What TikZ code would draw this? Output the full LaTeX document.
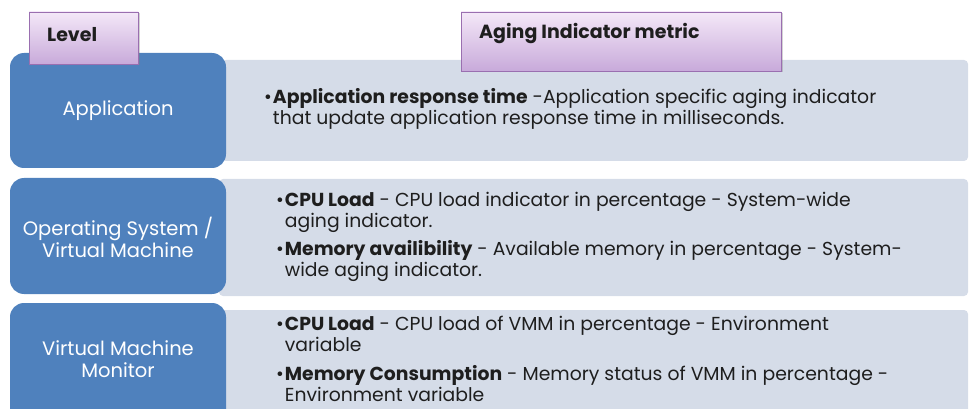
\documentclass[tikz,border=0pt]{standalone}
\usepackage{fontspec}
\setmainfont{Poppins}
\usetikzlibrary{shadows}
\definecolor{blueA}{HTML}{4F81BD}
\definecolor{lightA}{HTML}{D5DCE8}
\definecolor{purpTop}{HTML}{F4E8F8}
\definecolor{purpBot}{HTML}{C8AADA}
\definecolor{purpEdge}{HTML}{9A6FB0}
\definecolor{txt}{HTML}{1E1E1E}
\begin{document}
\begin{tikzpicture}[x=1pt,y=-1pt,
  levelbox/.style={fill=blueA,rounded corners=14pt,inner sep=0pt},
  leveltext/.style={text=white,align=center,inner sep=0pt,font=\fontsize{19.5}{22}\selectfont},
  metricbox/.style={fill=lightA,rounded corners=4pt,inner sep=0pt},
  headbox/.style={draw=purpEdge,line width=0.8pt,top color=purpTop,bottom color=purpBot,
    drop shadow={opacity=0.35,shadow xshift=1.5pt,shadow yshift=-1.5pt},inner sep=0pt},
  headtext/.style={font=\fontsize{19}{20}\selectfont\bfseries,text=txt,inner sep=0pt,anchor=west},
  itm/.style={anchor=north west,inner sep=0pt,text=txt,font=\fontsize{18.8}{21.5}\selectfont}
]
\useasboundingbox (0,0) rectangle (970,409);
\clip (0,0) rectangle (970,409);
% metric boxes
\node[metricbox,minimum width=746pt,minimum height=101pt] (m1) at (595,110.5) {};
\node[metricbox,minimum width=749pt,minimum height=117pt] (m2) at (593.5,237.5) {};
\node[metricbox,minimum width=749pt,minimum height=120pt] (m3) at (593.5,370) {};
% level boxes
\node[levelbox,minimum width=216pt,minimum height=115pt] (l1) at (118,110.5) {};
\node[levelbox,minimum width=216pt,minimum height=116pt] (l2) at (118,236) {};
\node[levelbox,minimum width=216pt,minimum height=120pt] (l3) at (118,363) {};
\node[leveltext] (t1) at (118,111) {Application};
\node[leveltext] (t2) at (118,237) {Operating System /\\Virtual Machine};
\node[leveltext] (t3) at (118,359) {Virtual Machine\\Monitor};
% headers
\node[headbox,minimum width=109pt,minimum height=52pt] (h1) at (83.5,38) {};
\node[headbox,minimum width=320pt,minimum height=59pt] (h2) at (621,41.5) {};
\node[headtext] (h1t) at (47,35) {Level};
\node[headtext] (h2t) at (479,34) {Aging Indicator metric};
% items
\node[itm] (i1) at (264,88) {\begin{tabular}{@{}l@{\hspace{1pt}}l@{}}\textbullet&\textbf{Application response time} -Application specific aging indicator\\&that update application response time in milliseconds.\end{tabular}};
\node[itm] (i2) at (276,191) {\begin{tabular}{@{}l@{\hspace{1pt}}l@{}}\textbullet&\textbf{CPU Load} - CPU load indicator in percentage - System-wide\\&aging indicator.\end{tabular}};
\node[itm] (i3) at (276,240) {\begin{tabular}{@{}l@{\hspace{1pt}}l@{}}\textbullet&\textbf{Memory availibility} - Available memory in percentage - System-\\&wide aging indicator.\end{tabular}};
\node[itm] (i4) at (276,315) {\begin{tabular}{@{}l@{\hspace{1pt}}l@{}}\textbullet&\textbf{CPU Load} - CPU load of VMM in percentage - Environment\\&variable\end{tabular}};
\node[itm] (i5) at (276,365) {\begin{tabular}{@{}l@{\hspace{1pt}}l@{}}\textbullet&\textbf{Memory Consumption} - Memory status of VMM in percentage -\\&Environment variable\end{tabular}};
\end{tikzpicture}
\end{document}
